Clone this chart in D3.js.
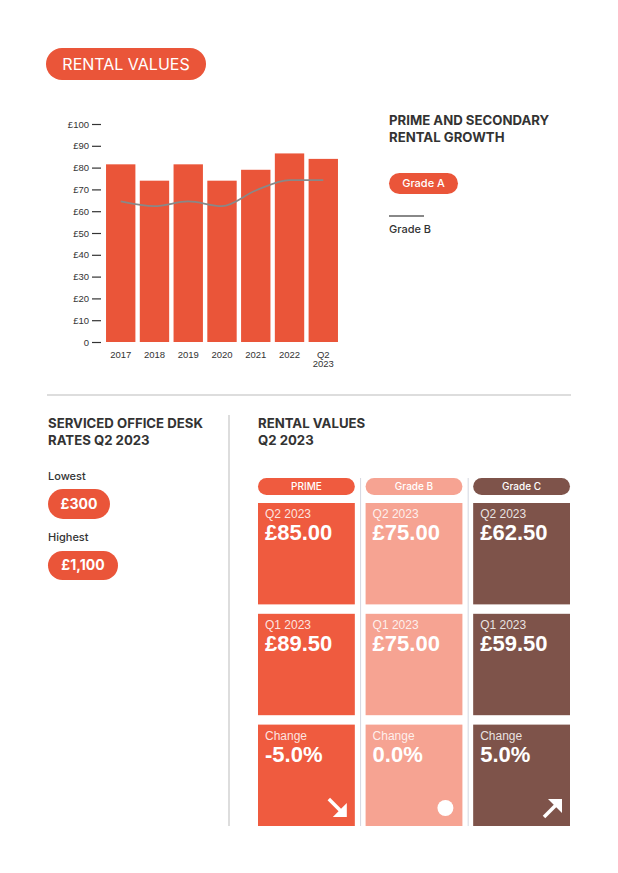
<!DOCTYPE html>
<html><head><meta charset="utf-8">
<script src="https://cdn.jsdelivr.net/npm/d3@7"></script>
<style>body{margin:0;background:#fff}text{font-family:Inter,"Noto Sans",sans-serif}.lib{font-family:"Liberation Sans",Arial,sans-serif}</style>
</head><body><div id="chart-area"></div>
<script>
// chart data
var years = ['2017', '2018', '2019', '2020', '2021', '2022', 'Q2 2023']
var gradeA = [81.5, 74, 81.5, 74, 79, 86.5, 84]
var gradeB = [64.5, 62.3, 64.5, 62.3, 69.5, 74.3, 74.3]
var yTicks = [0, 10, 20, 30, 40, 50, 60, 70, 80, 90, 100]

// table data
var columns = ['PRIME', 'Grade B', 'Grade C']
var colColors = ['#ef5b3f', '#f6a392', '#7e534a']
var rowLabels = ['Q2 2023', 'Q1 2023', 'Change']
var q2Values = ['£85.00', '£75.00', '£62.50']
var q1Values = ['£89.50', '£75.00', '£59.50']
var changes = ['-5.0%', '0.0%', '5.0%']
var icons = ['down', 'dot', 'up']

var red = '#ea5539', dark = '#333'

var svg = d3.select('#chart-area').append('svg')
		.attr('width', 618)
		.attr('height', 873)

function pill(x, y, w, h, fill, label, size, weight) {
	svg.append('rect').attr('x', x).attr('y', y).attr('width', w).attr('height', h)
		.attr('rx', h / 2).attr('fill', fill)
	svg.append('text').attr('x', x + w / 2).attr('y', y + h / 2).attr('dy', '0.35em')
		.attr('text-anchor', 'middle').attr('fill', '#fff')
		.attr('font-size', size).attr('font-weight', weight || 500).text(label)
}
function heading(x, y, lines) {
	lines.forEach(function(l, i) {
		svg.append('text').attr('x', x).attr('y', y + i * 17).attr('fill', dark)
			.attr('font-size', 13.2).attr('font-weight', 700).text(l)
	})
}

pill(46, 48, 160, 32, red, 'RENTAL VALUES', 16, 400)

// bar chart
var x = d3.scaleBand().domain(years).range([104, 340]).paddingInner(0.13).paddingOuter(0.06)
var y = d3.scaleLinear().domain([0, 100]).range([342, 124])

var g = svg.append('g')
g.selectAll('rect').data(gradeA).enter().append('rect')
	.attr('x', function(d, i) { return x(years[i]) })
	.attr('y', function(d) { return y(d) })
	.attr('width', x.bandwidth())
	.attr('height', function(d) { return y(0) - y(d) })
	.attr('fill', red)

var line = d3.line()
	.x(function(d, i) { return x(years[i]) + x.bandwidth() / 2 })
	.y(function(d) { return y(d) })
	.curve(d3.curveMonotoneX)
g.append('path').attr('d', line(gradeB)).attr('fill', 'none')
	.attr('stroke', '#888').attr('stroke-width', 1.8)

var yAxis = g.append('g').attr('transform', 'translate(101,0)')
	.call(d3.axisLeft(y).tickValues(yTicks).tickSize(9).tickPadding(3)
		.tickFormat(function(d) { return d === 0 ? '0' : '£' + d }))
yAxis.select('.domain').remove()
yAxis.selectAll('line').attr('stroke', '#333').attr('stroke-width', 1.2)
yAxis.selectAll('text').attr('class', 'lib').attr('font-size', 9.5).attr('fill', '#333')

years.forEach(function(yr) {
	var parts = yr.split(' ')
	parts.forEach(function(p, i) {
		g.append('text').attr('class', 'lib').attr('x', x(yr) + x.bandwidth() / 2).attr('y', 358 + i * 9)
			.attr('text-anchor', 'middle').attr('font-size', 9.5).attr('fill', '#333').text(p)
	})
})

// legend
heading(389, 125, ['PRIME AND SECONDARY', 'RENTAL GROWTH'])
pill(389, 173, 69, 21, red, 'Grade A', 11, 500)
svg.append('line').attr('x1', 389).attr('x2', 424).attr('y1', 216).attr('y2', 216)
	.attr('stroke', '#888').attr('stroke-width', 2)
svg.append('text').attr('x', 389).attr('y', 233).attr('font-size', 11).attr('font-weight', 500)
	.attr('fill', dark).text('Grade B')

// dividers
svg.append('line').attr('x1', 47).attr('x2', 571).attr('y1', 395).attr('y2', 395).attr('stroke', '#bbb')
svg.append('line').attr('x1', 229).attr('x2', 229).attr('y1', 415).attr('y2', 826).attr('stroke', '#bbb')

// serviced office
heading(48, 428, ['SERVICED OFFICE DESK', 'RATES Q2 2023'])
svg.append('text').attr('x', 48).attr('y', 480).attr('font-size', 11).attr('font-weight', 500).attr('fill', dark).text('Lowest')
pill(48, 489, 62, 30, red, '£300', 14, 700)
svg.append('text').attr('x', 48).attr('y', 541).attr('font-size', 11).attr('font-weight', 500).attr('fill', dark).text('Highest')
pill(48, 551, 70, 29, red, '£1,100', 14, 700)

// rental values table
heading(258, 428, ['RENTAL VALUES', 'Q2 2023'])
var cx = d3.scaleBand().domain(columns).range([258, 570]).paddingInner(0.1)
var ry = d3.scaleBand().domain(rowLabels).range([503, 826]).paddingInner(0.085)
var rowValues = [q2Values, q1Values, changes]

columns.forEach(function(c, i) {
	var x0 = cx(c), w = cx.bandwidth()
	pill(x0, 478, w, 17, colColors[i], c, 10, 500)
	if (i > 0) svg.append('line').attr('x1', x0 - 5).attr('x2', x0 - 5).attr('y1', 478).attr('y2', 826)
		.attr('stroke', '#d5d7e0')
	rowLabels.forEach(function(r, j) {
		var y0 = ry(r), h = ry.bandwidth()
		svg.append('rect').attr('x', x0).attr('y', y0).attr('width', w).attr('height', h).attr('fill', colColors[i])
		svg.append('text').attr('class', 'lib').attr('x', x0 + 7).attr('y', y0 + 15).attr('font-size', 12)
			.attr('fill', '#fff').attr('fill-opacity', 0.85).text(r)
		svg.append('text').attr('class', 'lib').attr('x', x0 + 7).attr('y', y0 + 37).attr('font-size', 22)
			.attr('font-weight', 700).attr('fill', '#fff').text(rowValues[j][i])
	})
	// icon in change cell
	var ix = x0 + w - 15, iy = ry('Change') + ry.bandwidth() - 18
	if (icons[i] === 'dot') {
		svg.append('circle').attr('cx', ix - 2).attr('cy', iy).attr('r', 8).attr('fill', '#fff')
	} else {
		var s = icons[i] === 'down' ? 1 : -1
		var a = svg.append('g').attr('transform', 'translate(' + (ix - 2) + ',' + iy + ')')
		a.append('line').attr('x1', -9).attr('y1', -9 * s).attr('x2', 7).attr('y2', 7 * s)
			.attr('stroke', '#fff').attr('stroke-width', 3.5)
		a.append('path').attr('d', 'M9,' + (-5 * s) + 'L9,' + (9 * s) + 'L-5,' + (9 * s) + 'Z').attr('fill', '#fff')
	}
})
</script></body></html>
